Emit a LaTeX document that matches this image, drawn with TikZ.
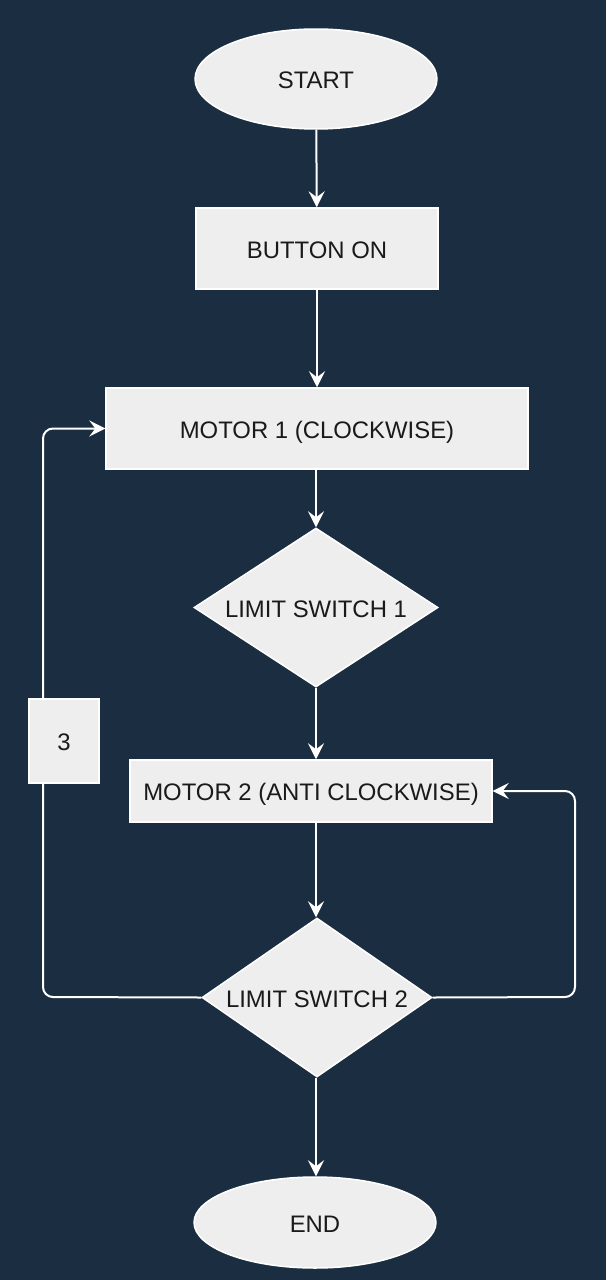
\documentclass[tikz,border=0pt]{standalone}
\usepackage{fontspec}
\setmainfont{Liberation Sans}
\usepackage{xcolor}
\usepackage{tikz}
\usetikzlibrary{shapes.geometric,arrows.meta,calc}

\definecolor{bgnavy}{HTML}{1B2D40}
\definecolor{boxfill}{HTML}{EEEEEE}
\definecolor{boxtext}{HTML}{1A1A1A}

\tikzset{
    flowbox/.style={draw=white, line width=0.3mm, fill=boxfill, text=boxtext,
        font=\fontsize{13.6}{16}\selectfont, inner sep=0pt,
        text height=2.1ex, text depth=0pt},
    termbox/.style={flowbox, ellipse},
    stepbox/.style={flowbox, rectangle},
    testbox/.style={flowbox, diamond, aspect=1.53},
    flowline/.style={draw=white, line width=0.4mm,
        -{Stealth[length=3.2mm, width=3.2mm, inset=1.2mm]}},
}

\begin{document}
\begin{tikzpicture}[x=0.02cm, y=-0.02cm]
    % Background
    \fill[bgnavy] (0,0) rectangle (606,1280);
    \useasboundingbox (0,0) rectangle (606,1280);

    % Main column
    \node[termbox, minimum width=4.84cm, minimum height=2.0cm] (start) at (316,79) {START};
    \node[stepbox, minimum width=4.84cm, minimum height=1.62cm] (button) at (317,248.5) {BUTTON ON};
    \node[stepbox, minimum width=8.44cm, minimum height=1.62cm] (motorA) at (317,428.5) {MOTOR 1 (CLOCKWISE)};
    \node[testbox, minimum width=4.88cm, minimum height=3.18cm] (limitA) at (316,607.5) {LIMIT SWITCH 1};
    \node[stepbox, minimum width=7.24cm, minimum height=1.24cm] (motorB) at (311,791) {MOTOR 2 (ANTI CLOCKWISE)};
    \node[testbox, aspect=1.45, minimum width=4.6cm, minimum height=3.18cm] (limitB) at (317,997.5) {LIMIT SWITCH 2};
    \node[termbox, minimum width=4.84cm, minimum height=1.82cm] (finish) at (315,1222.5) {END};

    % Straight arrows
    \draw[flowline] (start) -- (button);
    \draw[flowline] (button) -- (motorA.north -| button.south);
    \draw[flowline] (motorA.south -| limitA.north) -- (limitA.north);
    \draw[flowline] (limitA.south) -- (limitA.south |- motorB.north);
    \draw[flowline] (limitA.south |- motorB.south) -- (limitA.south |- limitB.north);
    \draw[flowline] (limitA.south |- limitB.south) -- (limitA.south |- finish.north);

    % Loops back
    \coordinate (leftrun) at (43,997);
    \coordinate (rightrun) at (575,997);
    \draw[flowline, rounded corners=0.2cm] (limitB.west) -- (leftrun) |- (motorA.west);
    \draw[flowline, rounded corners=0.2cm] (limitB.east) -- (rightrun) |- (motorB.east);

    % Loop count label
    \node[stepbox, minimum width=1.4cm, minimum height=1.68cm] (count) at (64,741) {3};
\end{tikzpicture}
\end{document}
